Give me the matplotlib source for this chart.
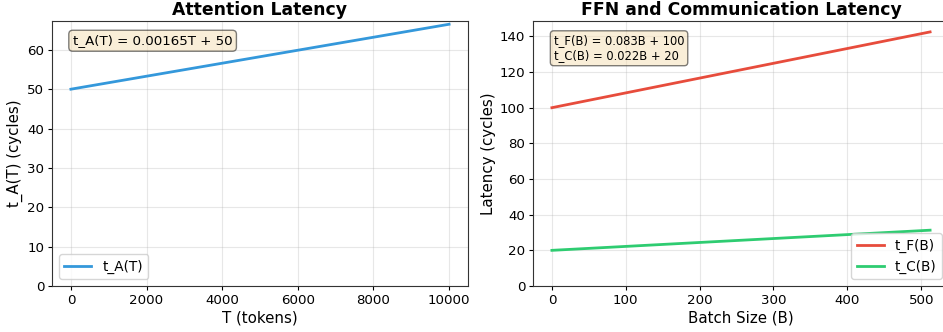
import matplotlib
matplotlib.use("Agg")
import matplotlib.pyplot as plt
import numpy as np

# Data (line endpoints)
T_tokens = [0, 10000]
t_A = [50, 66.5]
B_batch = [0, 512]
t_F = [100, 142.5]
t_C = [20, 31.3]

left_title = "Attention Latency"
right_title = "FFN and Communication Latency"
left_box = "t_A(T) = 0.00165T + 50"
right_box = "t_F(B) = 0.083B + 100\nt_C(B) = 0.022B + 20"

plt.rcParams['font.family'] = ['DejaVu Sans']
W, H = 943, 332
fig = plt.figure(figsize=(W / 100, H / 100), dpi=100)
ax1 = fig.add_axes([52 / W, 46 / H, 416 / W, 265 / H])
ax2 = fig.add_axes([533 / W, 46 / H, 416 / W, 265 / H])

c_blue, c_red, c_green = '#3498db', '#e74c3c', '#2ecc71'

ax1.plot(T_tokens, t_A, color=c_blue, lw=2, label='t_A(T)')
ax1.set_ylim(bottom=0)
ax1.set_xlabel('T (tokens)', fontsize=10.8, labelpad=2.5)
ax1.set_ylabel('t_A(T) (cycles)', fontsize=10.8, labelpad=3)
ax1.set_title(left_title, fontsize=12.4, fontweight='bold', pad=4)
ax1.legend(loc='lower left', fontsize=9.8)
ax1.grid(True, alpha=0.3)
ax1.text(0.05, 0.95, left_box, transform=ax1.transAxes, fontsize=9.6,
         va='top', bbox=dict(boxstyle='round', facecolor='wheat', alpha=0.5))

ax2.plot(B_batch, t_F, color=c_red, lw=2, label='t_F(B)')
ax2.plot(B_batch, t_C, color=c_green, lw=2, label='t_C(B)')
ax2.set_ylim(bottom=0)
ax2.set_xlabel('Batch Size (B)', fontsize=10.8, labelpad=2.5)
ax2.set_ylabel('Latency (cycles)', fontsize=10.8, labelpad=3)
ax2.set_title(right_title, fontsize=12.4, fontweight='bold', pad=4)
ax2.legend(loc='lower right', fontsize=9.8)
ax2.grid(True, alpha=0.3)
ax2.text(0.05, 0.95, right_box, transform=ax2.transAxes, fontsize=8.3,
         va='top', bbox=dict(boxstyle='round', facecolor='wheat', alpha=0.5))

for ax in (ax1, ax2):
    ax.tick_params(labelsize=9.6, pad=2.5, length=3)
    for s in ax.spines.values():
        s.set_color('#333333')

fig.savefig('out.png', dpi=100)
